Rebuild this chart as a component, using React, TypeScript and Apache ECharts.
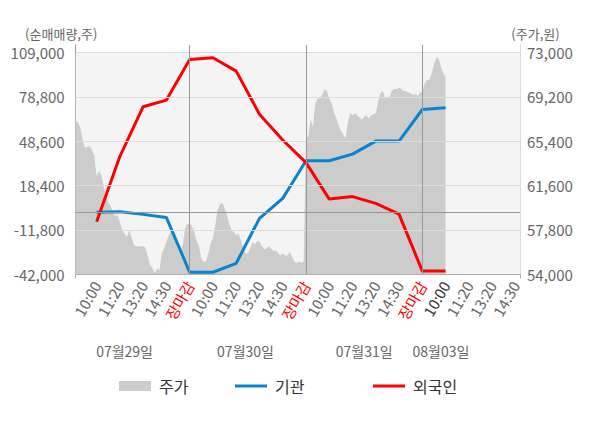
import React, { useEffect, useRef } from "react";
import * as echarts from "echarts";

// ---- data ----
const tickLabels = [
  "10:00", "11:20", "13:20", "14:30", "장마감",
  "10:00", "11:20", "13:20", "14:30", "장마감",
  "10:00", "11:20", "13:20", "14:30", "장마감",
  "10:00", "11:20", "13:20", "14:30",
];
const dayLabels = ["07월29일", "07월30일", "07월31일", "08월03일"];
const dayLabelSlots = [21, 73, 124, 157];
const daySeparatorSlots = [49, 99, 149];

const priceDay1 = [
  67100, 67000, 66550, 65500, 64800, 64950, 65000, 64650, 64200, 62350,
  62850, 62500, 61500, 60800, 60200, 59800, 59350, 58950, 59100, 58500,
  57800, 57500, 57200, 57800, 57200, 56500, 56400, 56400, 56400, 56400,
  56300, 55500, 54800, 54500, 54100, 54500, 54350, 55800, 56200, 56800,
  57350, 57650, 57500, 56800, 56200, 55950, 56500, 57950, 58300, 58350,
];
const priceDay2 = [
  58100, 57650, 56850, 56400, 55350, 55100, 55100, 55800, 56650, 57100,
  58200, 59500, 60000, 60150, 59650, 59100, 58350, 57800, 57600, 57350,
  57500, 56950, 56200, 55800, 55800, 56200, 56750, 56550, 56850, 56800,
  56450, 56150, 56200, 56400, 56200, 56000, 56050, 55800, 55600, 55800,
  55600, 55600, 55900, 55500, 55100, 54950, 55100, 55000, 55100,
];
const priceDay3 = [
  65650, 65800, 67300, 66650, 68650, 69050, 69100, 69350, 69850, 69700,
  69050, 68650, 67900, 67400, 66750, 66300, 66000, 65650, 67050, 67800,
  67650, 67800, 67650, 67450, 67250, 67500, 67600, 67350, 67600, 67700,
  67800, 68800, 69500, 69700, 69100, 69200, 69200, 69750, 69900, 69850,
  70000, 69850, 69700, 69650, 69600, 69500, 69350, 69450, 69300, 69500,
];
const priceDay4 = [69700, 70350, 70650, 70650, 71200, 71950, 72550, 72500, 71800, 71200, 70900];

const instNet = [
  200, 650, -1200, -3400, -40600, -40600, -34500, -3900,
  9700, 35300, 35300, 39800, 48700, 48700, 70200, 71400,
];
const foreignNet = [
  -6200, 38300, 72100, 76600, 104200, 105400, 96300, 67000,
  49400, 34000, 9200, 10900, 6300, -1000, -39800, -39800,
];

const leftTicks = [-42000, -11800, 18400, 48600, 78800, 109000];
const rightTicks = [54000, 57800, 61600, 65400, 69200, 73000];

// ---- axis frame ----
const SLOT_COUNT = 192;
const FIRST_TICK = 9;
const TICK_STEP = 10;

const GRID_TOP = 45;
const PLOT_TOP = 52.5;
const PLOT_BOTTOM = 274.3;
const extRatio = (PLOT_TOP - GRID_TOP) / (PLOT_BOTTOM - PLOT_TOP);

const fmt = (v: number) => Math.round(v).toLocaleString("en-US");

export default function App() {
  const ref = useRef<HTMLDivElement>(null);

  useEffect(() => {
    if (!ref.current) return;
    const chart = echarts.init(ref.current, undefined, { renderer: "svg" });

    const slots = Array.from({ length: SLOT_COUNT }, (_, i) => "s" + i);
    const price = [...priceDay1, ...priceDay2, ...priceDay3, ...priceDay4];
    const instData = instNet.map((v, k) => [FIRST_TICK + k * TICK_STEP, v]);
    const foreignData = foreignNet.map((v, k) => [FIRST_TICK + k * TICK_STEP, v]);

    const lMin = leftTicks[0];
    const lTop = leftTicks[leftTicks.length - 1];
    const lMax = lTop + (lTop - lMin) * extRatio;
    const rMin = rightTicks[0];
    const rTop = rightTicks[rightTicks.length - 1];
    const rMax = rTop + (rTop - rMin) * extRatio;

    const font = "'Noto Sans CJK KR', 'Noto Sans', sans-serif";

    const legendBase = {
      top: 373,
      itemWidth: 32,
      icon: "rect",
      selectedMode: false,
      textStyle: { fontSize: 16, color: "#333", fontFamily: font, padding: [0, 0, 0, 3] },
    };

    chart.setOption({
      animation: false,
      textStyle: { fontFamily: font },
      grid: { left: 75.7, right: 80, top: GRID_TOP, bottom: 428 - PLOT_BOTTOM, containLabel: false },
      legend: [
        { ...legendBase, left: 114, itemHeight: 10, data: ["주가"] },
        { ...legendBase, left: 230, itemHeight: 3, data: ["기관"] },
        { ...legendBase, left: 368, itemHeight: 3, data: ["외국인"] },
      ],
      xAxis: [
        {
          type: "category",
          data: slots,
          boundaryGap: false,
          axisLine: { show: true, onZero: false, lineStyle: { color: "#999" } },
          axisTick: {
            show: true,
            length: 4,
            interval: (i: number) => i === 0 || i === SLOT_COUNT - 1,
            lineStyle: { color: "#aaa" },
          },
          splitLine: { show: false },
          axisLabel: {
            interval: (i: number) => i >= FIRST_TICK && (i - FIRST_TICK) % TICK_STEP === 0,
            rotate: 60,
            margin: 8,
            formatter: (_v: string, i: number) => {
              const k = (i - FIRST_TICK) / TICK_STEP;
              const t = tickLabels[k];
              if (t === undefined) return "";
              if (t === "장마감") return "{r|" + t + "}";
              if (k === 15) return "{d|" + t + "}";
              return "{n|" + t + "}";
            },
            rich: {
              n: { color: "#666", fontSize: 15, fontFamily: font },
              r: { color: "#ff0000", fontSize: 15, fontFamily: font },
              d: { color: "#333", fontSize: 15, fontFamily: font },
            },
          },
        },
        {
          type: "category",
          data: slots,
          boundaryGap: false,
          position: "bottom",
          offset: 63,
          axisLine: { show: false, onZero: false },
          axisTick: { show: false },
          splitLine: { show: false },
          axisLabel: {
            interval: (i: number) => dayLabelSlots.indexOf(i) >= 0,
            formatter: (_v: string, i: number) => {
              const k = dayLabelSlots.indexOf(i);
              return k >= 0 ? dayLabels[k] : "";
            },
            color: "#666",
            fontSize: 14,
            margin: 7,
          },
        },
      ],
      yAxis: [
        {
          type: "value",
          position: "left",
          min: lMin,
          max: lMax,
          interval: leftTicks[1] - leftTicks[0],
          axisLine: { show: true, lineStyle: { color: "#999" } },
          axisTick: { show: false },
          splitLine: { show: false },
          axisLabel: { color: "#666", fontSize: 15, margin: 11, showMaxLabel: false, formatter: fmt },
          name: "(순매매량,주)",
          nameLocation: "end",
          nameGap: 5,
          nameTextStyle: { color: "#666", fontSize: 13, align: "center", padding: [0, 29, 0, 0] },
        },
        {
          type: "value",
          position: "right",
          min: rMin,
          max: rMax,
          interval: rightTicks[1] - rightTicks[0],
          axisLine: { show: true, lineStyle: { color: "#ddd" } },
          axisTick: { show: false },
          splitLine: { show: false },
          axisLabel: { color: "#666", fontSize: 15, margin: 7, showMaxLabel: false, formatter: fmt },
          name: "(주가,원)",
          nameLocation: "end",
          nameGap: 5,
          nameTextStyle: { color: "#666", fontSize: 13, align: "center", padding: [0, 0, 0, 31] },
        },
      ],
      series: [
        {
          name: "_bg",
          type: "line",
          data: [],
          z: 0,
          silent: true,
          markArea: {
            silent: true,
            itemStyle: { color: "#f4f4f4" },
            data: [[{ xAxis: 0, yAxis: lMin }, { xAxis: SLOT_COUNT - 1, yAxis: lTop }]],
          },
        },
        {
          name: "주가",
          type: "line",
          yAxisIndex: 1,
          data: price,
          color: "#cccccc",
          showSymbol: false,
          symbol: "none",
          lineStyle: { width: 0 },
          areaStyle: { color: "#cccccc", opacity: 1 },
          z: 1,
          silent: true,
        },
        {
          name: "_grid",
          type: "line",
          data: [],
          z: 2,
          silent: true,
          markLine: {
            silent: true,
            symbol: ["none", "none"],
            label: { show: false },
            data: [
              ...leftTicks.slice(1).map((v) => ({
                yAxis: v,
                lineStyle: { color: "#dcdcdc", width: 1, type: "solid" },
              })),
              { yAxis: 0, lineStyle: { color: "#999", width: 1, type: "solid" } },
              ...daySeparatorSlots.map((s) => ({
                xAxis: s,
                lineStyle: { color: "#999", width: 1, type: "solid" },
              })),
            ],
          },
        },
        {
          name: "기관",
          type: "line",
          data: instData,
          color: "#0a82cf",
          showSymbol: false,
          symbol: "none",
          lineStyle: { width: 3, color: "#0a82cf" },
          z: 3,
        },
        {
          name: "외국인",
          type: "line",
          data: foreignData,
          color: "#ff0000",
          showSymbol: false,
          symbol: "none",
          lineStyle: { width: 3, color: "#ff0000" },
          z: 4,
        },
      ],
    });

    return () => chart.dispose();
  }, []);

  return (
    <div
      ref={ref}
      style={{ position: "absolute", left: 0, top: 0, width: 600, height: 428 }}
    />
  );
}
